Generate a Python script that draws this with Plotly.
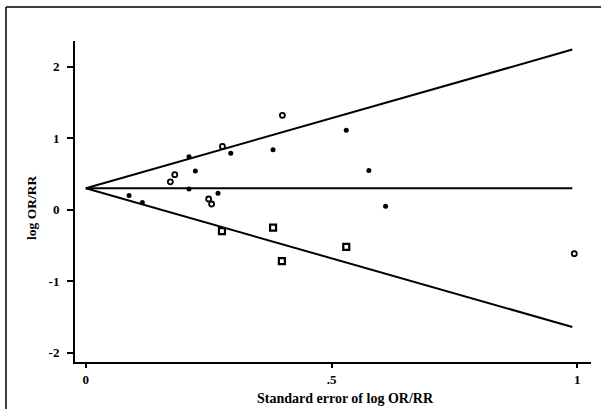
import plotly.graph_objects as go

# Study estimates (standard error, log OR/RR)
filled_se = [0.530, 0.295, 0.381, 0.210, 0.223, 0.576, 0.210, 0.088, 0.115, 0.269, 0.610]
filled_y = [1.11, 0.79, 0.84, 0.74, 0.54, 0.55, 0.29, 0.20, 0.10, 0.23, 0.05]
open_se = [0.400, 0.278, 0.181, 0.172, 0.250, 0.256, 0.994]
open_y = [1.32, 0.885, 0.49, 0.39, 0.15, 0.08, -0.615]
square_se = [0.277, 0.381, 0.530, 0.399]
square_y = [-0.30, -0.25, -0.52, -0.72]

# Pooled estimate and pseudo 95% confidence limits
line_se = [0.0, 0.99]
pooled = [0.30, 0.30]
upper = [0.30, 2.24]
lower = [0.30, -1.64]

x_ticks = [0, 0.5, 1]
x_ticklabels = ["0", ".5", "1"]
y_ticks = [-2, -1, 0, 1, 2]
y_ticklabels = ["-2", "-1", "0", "1", "2"]

font = "Liberation Serif"

fig = go.Figure()
for ys in (pooled, upper, lower):
    fig.add_trace(go.Scatter(x=line_se, y=ys, mode="lines",
                             line=dict(color="black", width=2), hoverinfo="skip"))

fig.add_trace(go.Scatter(x=filled_se, y=filled_y, mode="markers",
                         marker=dict(symbol="circle", size=5, color="black")))
fig.add_trace(go.Scatter(x=open_se, y=open_y, mode="markers",
                         marker=dict(symbol="circle-open", size=5, color="black",
                                     line=dict(width=1.8, color="black"))))
fig.add_trace(go.Scatter(x=square_se, y=square_y, mode="markers",
                         marker=dict(symbol="square-open", size=6, color="black",
                                     line=dict(width=2.2, color="black"))))

fig.update_layout(
    width=601, height=409,
    margin=dict(l=75, r=10, t=41, b=47),
    paper_bgcolor="white", plot_bgcolor="white",
    showlegend=False,
    font=dict(family=font, color="black", size=12),
    xaxis=dict(range=[-0.022, 1.028], tickvals=x_ticks,
               ticktext=["<b>%s</b>" % t for t in x_ticklabels],
               automargin=False,
               showgrid=False, zeroline=False, showline=True, linecolor="black",
               linewidth=2, ticks="outside", ticklen=4, tickwidth=1.5, tickcolor="black",
               tickfont=dict(family=font, size=13, color="black")),
    yaxis=dict(range=[-2.13, 2.36], tickvals=y_ticks,
               ticktext=["<b>%s</b>" % t for t in y_ticklabels],
               automargin=False, ticklabelstandoff=5,
               showgrid=False, zeroline=False, showline=True, linecolor="black",
               linewidth=2, ticks="outside", ticklen=6, tickwidth=1.5, tickcolor="black",
               tickfont=dict(family=font, size=13, color="black")),
)

# axis titles
fig.add_annotation(text="<b>Standard error of log OR/RR</b>", xref="paper", yref="paper",
                   x=(345 - 75) / 516, y=-(398 - 362) / 321, showarrow=False,
                   xanchor="center", yanchor="middle",
                   font=dict(family=font, size=14, color="black"))
fig.add_annotation(text="<b>log OR/RR</b>", xref="paper", yref="paper",
                   x=-(75 - 32) / 516, y=(362 - 208) / 321, showarrow=False,
                   textangle=-90, xanchor="center", yanchor="middle",
                   font=dict(family=font, size=13.5, color="black"))

# outer frame (top and left edges of the scanned figure)
fig.add_shape(type="line", xref="paper", yref="paper",
              x0=-(75 - 6) / 516, x1=1 + 10 / 516, y0=1 + 34 / 321, y1=1 + 34 / 321,
              line=dict(color="black", width=1.5))
fig.add_shape(type="line", xref="paper", yref="paper",
              x0=-(75 - 6) / 516, x1=-(75 - 6) / 516, y0=1 + 34 / 321, y1=-47 / 321,
              line=dict(color="black", width=1.5))

fig.write_html("out.html")
